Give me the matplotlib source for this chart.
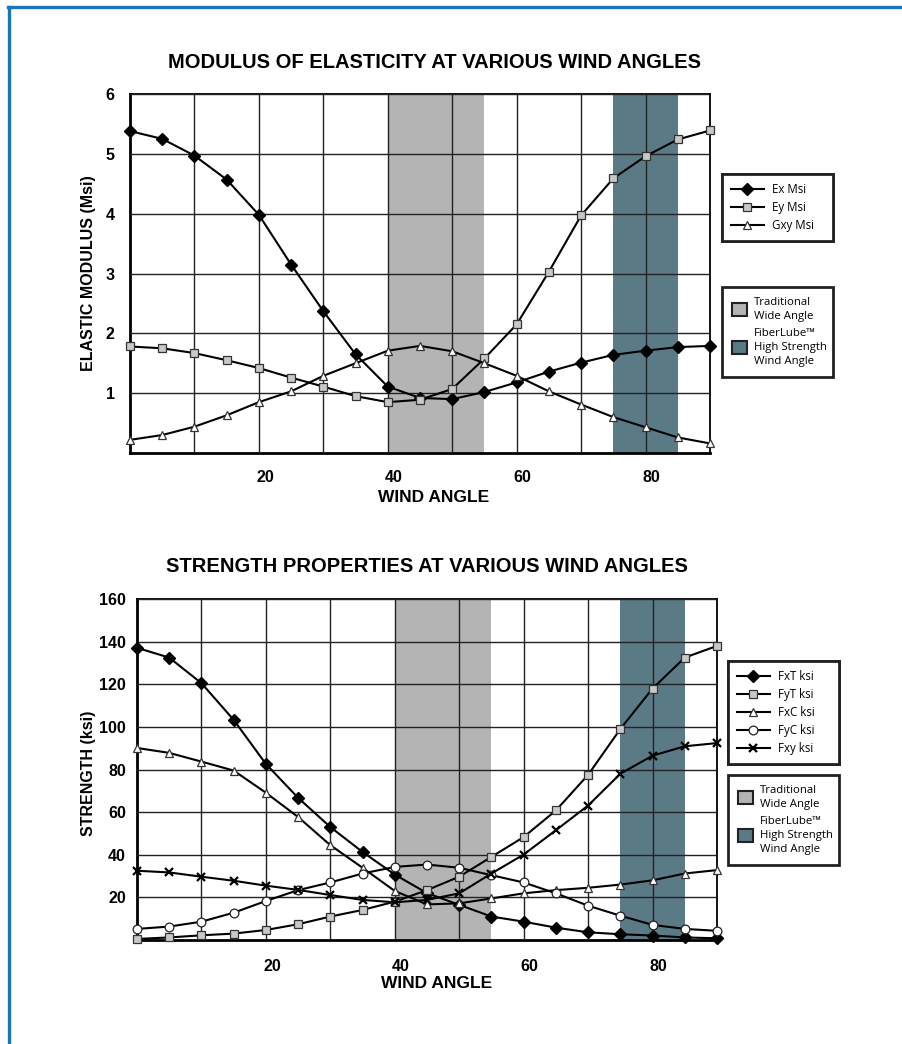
import numpy as np
import matplotlib.pyplot as plt
from matplotlib.lines import Line2D
from matplotlib.patches import Patch
from matplotlib.transforms import ScaledTranslation

# Data
ANGLES = [0, 5, 10, 15, 20, 25, 30, 35, 40, 45, 50, 55, 60, 65, 70, 75, 80, 85, 90]

EX_MSI = [5.38, 5.25, 4.97, 4.57, 3.98, 3.15, 2.37, 1.65, 1.11, 0.92, 0.90, 1.02, 1.18,
          1.36, 1.51, 1.64, 1.71, 1.77, 1.79]
EY_MSI = [1.78, 1.75, 1.67, 1.55, 1.42, 1.26, 1.11, 0.95, 0.85, 0.89, 1.07, 1.58, 2.15,
          3.03, 3.97, 4.59, 4.96, 5.24, 5.39]
GXY_MSI = [0.22, 0.30, 0.44, 0.63, 0.85, 1.03, 1.29, 1.50, 1.71, 1.79, 1.70, 1.50, 1.29,
           1.03, 0.81, 0.60, 0.43, 0.26, 0.16]

FXT_KSI = [137.1, 132.5, 120.5, 103.3, 82.6, 66.7, 53.0, 41.3, 30.7, 22.0, 16.5, 11.0, 8.6,
           5.8, 3.6, 2.7, 2.1, 1.2, 0.8]
FYT_KSI = [0.5, 1.2, 2.2, 3.0, 4.7, 7.4, 11.0, 14.1, 18.0, 23.4, 29.7, 39.0, 48.3,
           60.8, 77.5, 99.0, 118.0, 132.5, 138.0]
FXC_KSI = [90.1, 87.8, 83.7, 79.5, 69.1, 57.7, 44.5, 33.9, 23.0, 16.7, 17.2, 19.5, 21.9,
           23.4, 24.5, 26.0, 28.0, 31.2, 32.8]
FYC_KSI = [5.2, 6.3, 8.6, 12.8, 18.3, 23.4, 27.0, 31.2, 34.3, 35.4, 33.9, 30.4, 27.0,
           21.9, 16.1, 11.4, 7.1, 5.2, 4.3]
FXY_KSI = [32.5, 31.7, 29.7, 27.8, 25.5, 23.5, 21.1, 18.8, 17.7, 18.8, 21.9, 31.2, 40.1,
           51.5, 63.1, 78.0, 86.5, 90.9, 92.4]

WIDE_RANGE = (40, 55)
HIGH_RANGE = (75, 85)

GRAY = '#b4b4b4'
TEAL = '#5a7a85'
SQ_FACE = '#c8c8c8'

plt.rcParams['font.family'] = ['Liberation Sans', 'DejaVu Sans']

W, H = 902, 1044
fig = plt.figure(figsize=(W / 100, H / 100), dpi=100)


def fx(px):
    return px / W


def fy(py):
    return 1 - py / H


# blue frame on top and left
fig.add_artist(Line2D([fx(8), fx(902)], [fy(7), fy(7)], color='#1b75bb', lw=2.4,
                      transform=fig.transFigure))
fig.add_artist(Line2D([fx(9), fx(9)], [fy(7), fy(1044)], color='#1b75bb', lw=2.4,
                      transform=fig.transFigure))

STYLES = {
    'diamond': dict(marker='D', ms=5.8, mfc='black', mec='black'),
    'square': dict(marker='s', ms=5.2, mfc=SQ_FACE, mec='#333333', mew=0.9),
    'triangle': dict(marker='^', ms=5.8, mfc='white', mec='#333333', mew=0.9),
    'circle': dict(marker='o', ms=6.3, mfc='white', mec='#222222', mew=0.9),
    'cross': dict(marker='x', ms=6, mec='black', mew=1.6),
}


def style_axes(ax, ymax, ystep, xpad, ypad):
    ax.set_xlim(0, 90)
    ax.set_ylim(0, ymax)
    ax.axvspan(*WIDE_RANGE, color=GRAY, lw=0, zorder=0)
    ax.axvspan(*HIGH_RANGE, color=TEAL, lw=0, zorder=0)
    ax.set_xticks(range(10, 90, 10))
    ax.set_xticklabels(['' if v % 20 else str(v) for v in range(10, 90, 10)])
    ax.set_yticks(np.arange(ystep, ymax + ystep, ystep))
    ax.grid(True, color='#222222', lw=1.0, zorder=1)
    ax.set_axisbelow(False)
    ax.tick_params(length=0, labelsize=11.5)
    ax.tick_params(axis='x', pad=xpad)
    ax.tick_params(axis='y', pad=ypad)
    shift = ScaledTranslation(6 / 100, 0, fig.dpi_scale_trans)
    for lab in ax.get_xticklabels():
        lab.set_fontweight('bold')
        lab.set_transform(lab.get_transform() + shift)
    for lab in ax.get_yticklabels():
        lab.set_fontweight('bold')
    for side in ['left', 'bottom']:
        ax.spines[side].set_linewidth(2.0)
    for side in ['top', 'right']:
        ax.spines[side].set_linewidth(1.3)


def add_legends(ax, handles, labels, box1, box2, left, right):
    width = fx(right - left)
    top1, bot1 = box1
    leg1 = ax.legend(handles, labels, loc='upper left', mode='expand',
                     bbox_to_anchor=(fx(left), fy(bot1), width, (bot1 - top1) / H),
                     bbox_transform=fig.transFigure,
                     frameon=True, fancybox=False, edgecolor='#222222', framealpha=1,
                     prop={'family': 'Open Sans', 'size': 8.3}, handlelength=2.8,
                     borderpad=0.8, labelspacing=0.42, handletextpad=0.7,
                     borderaxespad=0)
    leg1.get_frame().set_linewidth(2.0)
    ax.add_artist(leg1)
    top2, bot2 = box2
    areas = [Patch(facecolor=GRAY, edgecolor='#222222', lw=1.5),
             Patch(facecolor=TEAL, edgecolor='#222222', lw=1.5)]
    leg2 = fig.legend(areas, ['Traditional\nWide Angle', 'FiberLube\u2122\nHigh Strength\nWind Angle'],
                      loc='upper left', mode='expand',
                      bbox_to_anchor=(fx(left), fy(bot2), width, (bot2 - top2) / H),
                      bbox_transform=fig.transFigure, frameon=True, fancybox=False,
                      edgecolor='#222222', framealpha=1,
                      prop={'family': 'Open Sans', 'size': 8.2}, handlelength=1.3,
                      handleheight=1.4, borderpad=0.9, labelspacing=0.55,
                      handletextpad=0.6, borderaxespad=0)
    for txt in leg2.get_texts():
        txt.set_linespacing(1.35)
    leg2.get_frame().set_linewidth(2.0)


def draw(ax, values, style):
    line, = ax.plot(ANGLES, values, color='black', lw=1.5, zorder=3, clip_on=False,
                    **STYLES[style])
    return line


# top chart
ax1 = fig.add_axes([fx(130), fy(453), fx(580), 359 / H])
style_axes(ax1, 6, 1, 12, 11)
h_ex = draw(ax1, EX_MSI, 'diamond')
h_ey = draw(ax1, EY_MSI, 'square')
h_gxy = draw(ax1, GXY_MSI, 'triangle')
fig.text(fx(434), fy(62), 'MODULUS OF ELASTICITY AT VARIOUS WIND ANGLES', ha='center',
         va='center', fontsize=14.5, fontweight='bold')
fig.text(fx(88), fy(273), 'ELASTIC MODULUS (Msi)', rotation=90, ha='center', va='center',
         fontsize=11.5, fontweight='bold')
fig.text(fx(434), fy(497), 'WIND ANGLE', ha='center', va='center', fontsize=12.5,
         fontweight='bold')
add_legends(ax1, [h_ex, h_ey, h_gxy], ['Ex Msi', 'Ey Msi', 'Gxy Msi'],
            (174, 243), (287, 393), 722, 833)

# bottom chart
ax2 = fig.add_axes([fx(137), fy(940), fx(580), 341 / H])
style_axes(ax2, 160, 20, 14, 8)
h_fxt = draw(ax2, FXT_KSI, 'diamond')
h_fyt = draw(ax2, FYT_KSI, 'square')
h_fxc = draw(ax2, FXC_KSI, 'triangle')
h_fyc = draw(ax2, FYC_KSI, 'circle')
h_fxy = draw(ax2, FXY_KSI, 'cross')
fig.text(fx(427), fy(566), 'STRENGTH PROPERTIES AT VARIOUS WIND ANGLES', ha='center',
         va='center', fontsize=14.5, fontweight='bold')
fig.text(fx(88), fy(773), 'STRENGTH (ksi)', rotation=90, ha='center', va='center',
         fontsize=11.5, fontweight='bold')
fig.text(fx(437), fy(983), 'WIND ANGLE', ha='center', va='center', fontsize=12.5,
         fontweight='bold')
add_legends(ax2, [h_fxt, h_fyt, h_fxc, h_fyc, h_fxy],
            ['FxT ksi', 'FyT ksi', 'FxC ksi', 'FyC ksi', 'Fxy ksi'],
            (661, 760), (775, 879), 728, 839)

fig.savefig('out.png', dpi=100)
